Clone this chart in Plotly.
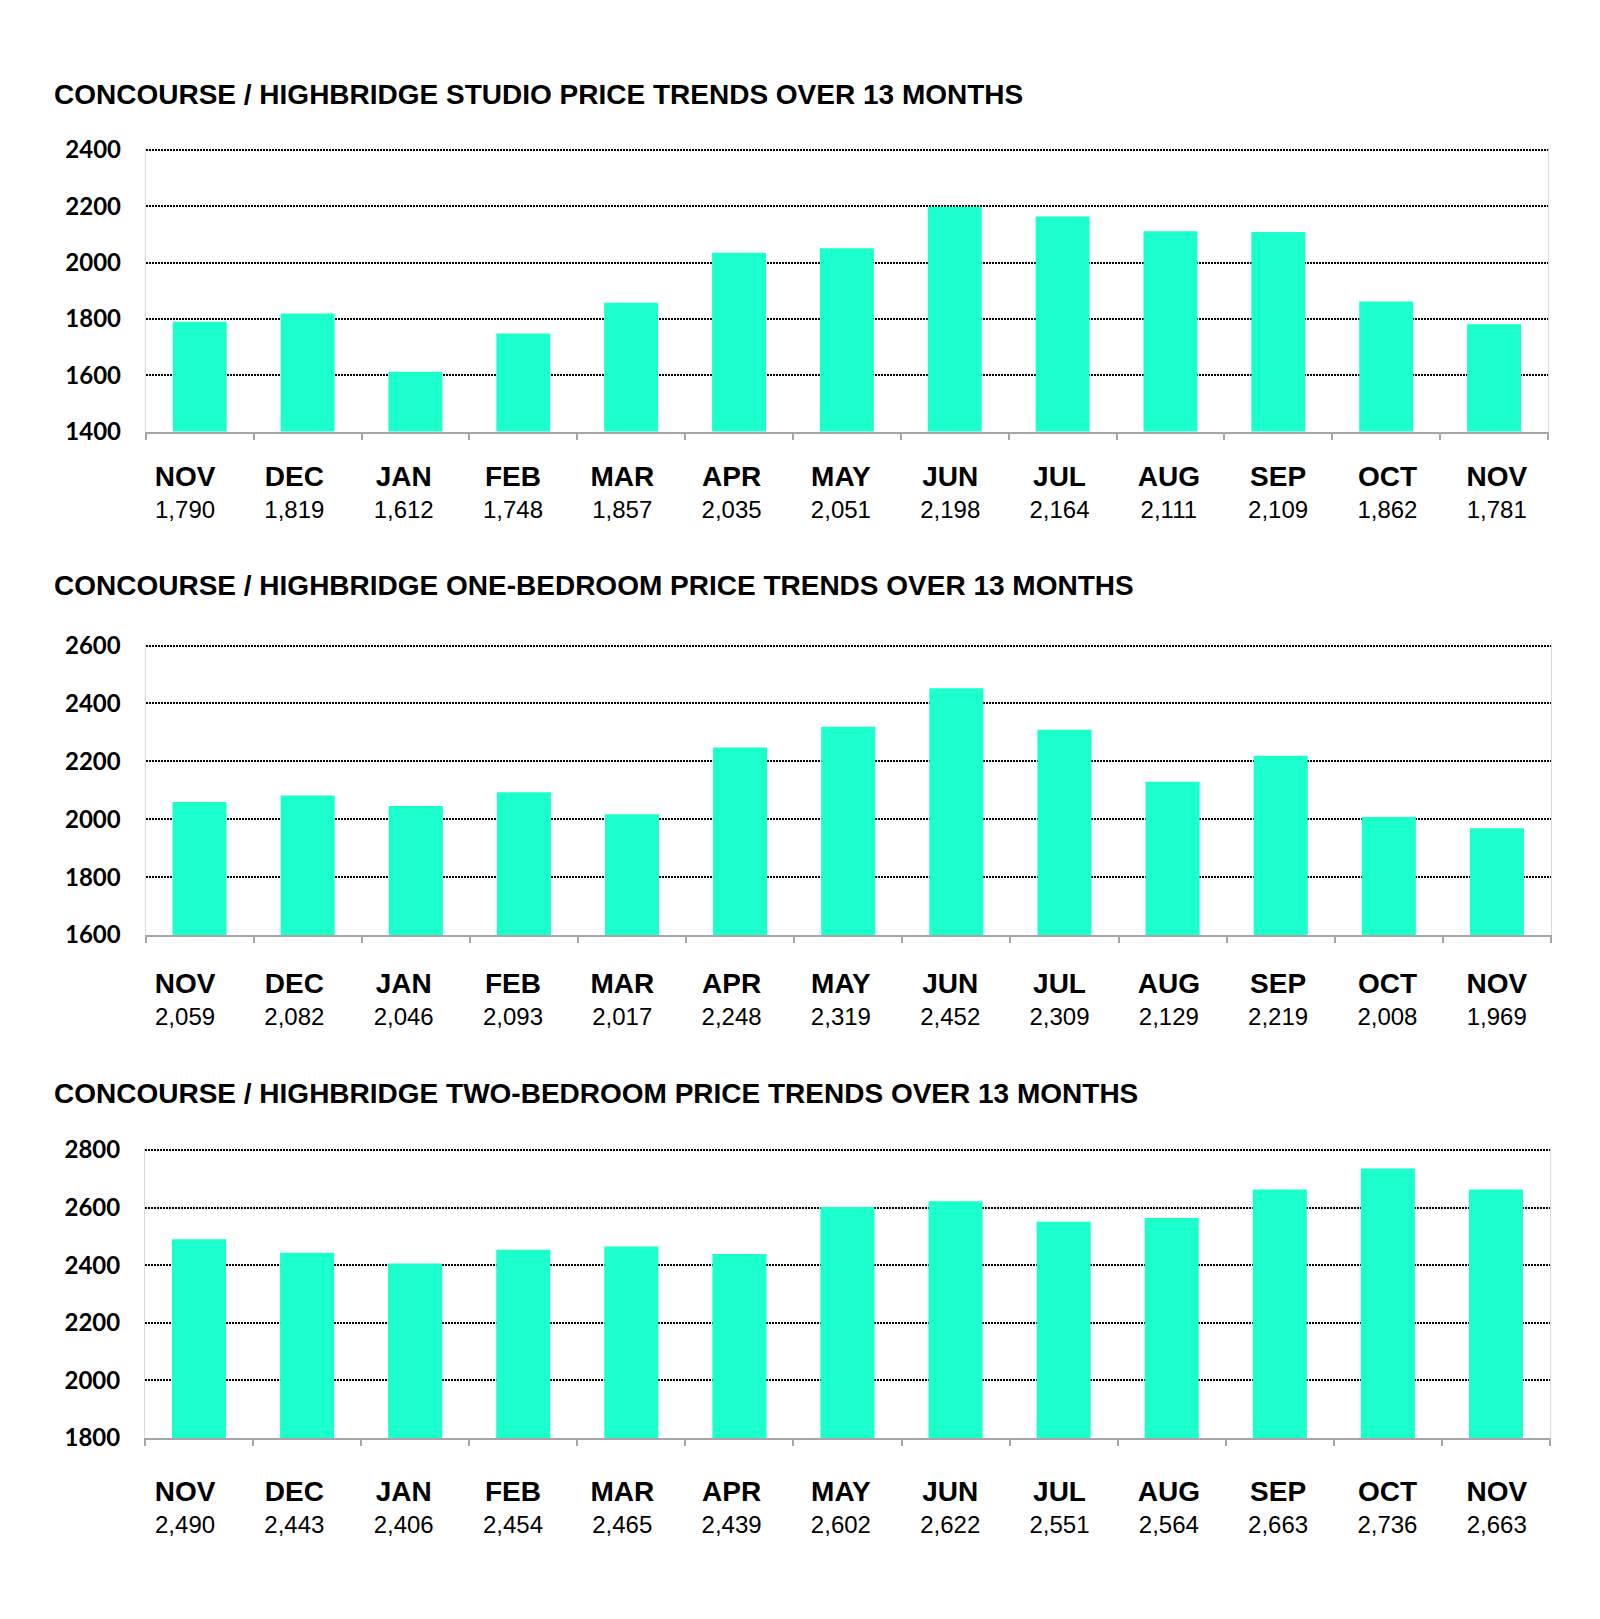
import plotly.graph_objects as go

months = ["NOV", "DEC", "JAN", "FEB", "MAR", "APR", "MAY", "JUN", "JUL", "AUG", "SEP", "OCT", "NOV"]
studio = [1790, 1819, 1612, 1748, 1857, 2035, 2051, 2198, 2164, 2111, 2109, 1862, 1781]
one_bed = [2059, 2082, 2046, 2093, 2017, 2248, 2319, 2452, 2309, 2129, 2219, 2008, 1969]
two_bed = [2490, 2443, 2406, 2454, 2465, 2439, 2602, 2622, 2551, 2564, 2663, 2736, 2663]

titles = [
    "CONCOURSE / HIGHBRIDGE STUDIO PRICE TRENDS OVER 13 MONTHS",
    "CONCOURSE / HIGHBRIDGE ONE-BEDROOM PRICE TRENDS OVER 13 MONTHS",
    "CONCOURSE / HIGHBRIDGE TWO-BEDROOM PRICE TRENDS OVER 13 MONTHS",
]
y_ranges = [[1400, 2400], [1600, 2600], [1800, 2800]]
series = [studio, one_bed, two_bed]

W, H = 1600, 1619
BAR = "#1AFFCC"

def px_x(p):
    return p / W

def px_y(p):
    return 1 - p / H

# layout geometry (pixels)
plot_x = [(145.8, 1548.0), (145.5, 1551.0), (145.0, 1550.0)]
plot_y = [(150.0, 431.5), (645.5, 935.0), (1150.0, 1438.0)]
title_y = [95, 585, 1093]
label_line_y = [459.5, 966.5, 1474.5]
label_x = (130.4, 1551.4)
TOP_PAD = 1.6  # px of headroom so the top gridline is kept by plotly

fig = go.Figure()
layout = dict(
    width=W, height=H,
    margin=dict(l=0, r=0, t=0, b=0, pad=0, autoexpand=False),
    paper_bgcolor="white",
    plot_bgcolor="rgba(0,0,0,0)",
    showlegend=False,
)

n = len(months)
idx = list(range(n))
bounds = [i - 0.5 for i in range(n + 1)]

annotations = []
for k in range(3):
    xa = "x" if k == 0 else f"x{k+1}"
    ya = "y" if k == 0 else f"y{k+1}"
    lx = f"x{k+4}"
    ly = f"y{k+4}"
    vals = series[k]
    fig.add_trace(go.Bar(x=idx, y=vals, xaxis=xa, yaxis=ya,
                         marker=dict(color=BAR, line=dict(width=0)),
                         width=0.5, hoverinfo="skip"))
    # invisible trace carrying the month/value label axis
    fig.add_trace(go.Scatter(x=idx, y=vals, xaxis=lx, yaxis=ly, mode="none",
                             hoverinfo="skip"))
    ktail = "" if k == 0 else str(k + 1)
    lo, hi = y_ranges[k]
    top_px, bot_px = plot_y[k]
    units_per_px = (hi - lo) / (bot_px - top_px)
    hi_ext = hi + TOP_PAD * units_per_px
    layout["xaxis" + ktail] = dict(
        domain=[px_x(plot_x[k][0]), px_x(plot_x[k][1])],
        anchor=ya,
        range=[-0.5, n - 0.5],
        tickmode="array", tickvals=bounds, showticklabels=False,
        ticks="outside", ticklen=6, tickwidth=1.5, tickcolor="#a6a6a6",
        showline=True, linecolor="#a6a6a6", linewidth=2,
        showgrid=False, zeroline=False, fixedrange=True, automargin=False,
    )
    layout["yaxis" + ktail] = dict(
        domain=[px_y(bot_px), px_y(top_px - TOP_PAD)],
        anchor=xa,
        range=[lo, hi_ext],
        tickmode="array", tickvals=list(range(lo, hi + 1, 200)),
        showgrid=True, gridcolor="black", gridwidth=2, griddash="2px,1px",
        showline=True, linecolor="#d9d9d9", linewidth=1, mirror=True,
        zeroline=False, ticks="", ticklabelstandoff=19,
        tickfont=dict(family="Lato", size=24, color="black", weight="bold"),
        fixedrange=True, automargin=False,
    )
    ticktext = [f"<span style='font-size:28px'><b>{m}</b></span><br>"
                f"<span style='font-size:24px'>{v:,}</span>"
                for m, v in zip(months, vals)]
    layout[f"xaxis{k+4}"] = dict(
        domain=[px_x(label_x[0]), px_x(label_x[1])],
        anchor="free", position=px_y(label_line_y[k]),
        range=[-0.5, n - 0.5],
        tickmode="array", tickvals=idx, ticktext=ticktext,
        tickfont=dict(family="Liberation Sans", size=25, color="black"),
        ticks="", showline=False, showgrid=False, zeroline=False,
        fixedrange=True, automargin=False,
    )
    layout[f"yaxis{k+4}"] = dict(
        domain=[px_y(bot_px), px_y(top_px)],
        anchor=lx, range=y_ranges[k], visible=False, showgrid=False,
        fixedrange=True, automargin=False,
    )
    annotations.append(dict(
        text=f"<b>{titles[k]}</b>", xref="paper", yref="paper",
        x=px_x(51.6), y=px_y(title_y[k]), xanchor="left", yanchor="middle",
        showarrow=False,
        font=dict(family="Liberation Sans", size=28, color="black"),
    ))

layout["annotations"] = annotations
fig.update_layout(**layout)
fig.write_html("out.html")
